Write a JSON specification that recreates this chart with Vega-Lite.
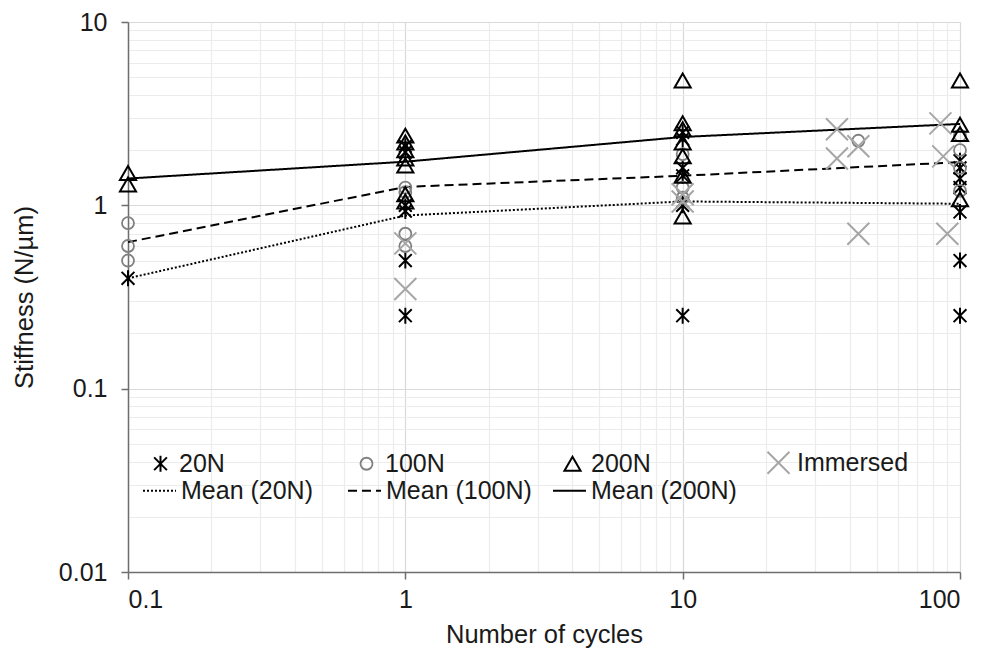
{
  "$schema": "https://vega.github.io/schema/vega-lite/v6.json",
  "width": 832,
  "height": 550,
  "autosize": {"type": "none"},
  "padding": {"left": 128, "top": 22, "right": 25, "bottom": 80},
  "background": "white",
  "config": {
    "view": {"stroke": null},
    "font": "Liberation Sans",
    "axis": {
      "labelFont": "Liberation Sans",
      "titleFont": "Liberation Sans",
      "labelFontSize": 25,
      "titleFontSize": 25.5,
      "labelColor": "#1a1a1a",
      "titleColor": "#1a1a1a",
      "titleFontWeight": "normal",
      "domainColor": "#6e6e6e",
      "domainWidth": 1.5,
      "tickColor": "#6e6e6e",
      "tickWidth": 1.5,
      "tickSize": 7,
      "labelOverlap": false,
      "labelBound": false
    },
    "legend": {
      "labelFont": "Liberation Sans",
      "labelFontSize": 25,
      "labelColor": "#1a1a1a",
      "padding": 0
    }
  },
  "datasets": {
    "points": [
      {"cycles": 0.1, "stiffness": 0.4, "load": "20N"},
      {"cycles": 1, "stiffness": 2.1, "load": "20N"},
      {"cycles": 1, "stiffness": 1.95, "load": "20N"},
      {"cycles": 1, "stiffness": 1.0, "load": "20N"},
      {"cycles": 1, "stiffness": 0.93, "load": "20N"},
      {"cycles": 1, "stiffness": 0.5, "load": "20N"},
      {"cycles": 1, "stiffness": 0.25, "load": "20N"},
      {"cycles": 10, "stiffness": 2.5, "load": "20N"},
      {"cycles": 10, "stiffness": 2.3, "load": "20N"},
      {"cycles": 10, "stiffness": 1.6, "load": "20N"},
      {"cycles": 10, "stiffness": 1.45, "load": "20N"},
      {"cycles": 10, "stiffness": 1.05, "load": "20N"},
      {"cycles": 10, "stiffness": 1.0, "load": "20N"},
      {"cycles": 10, "stiffness": 0.25, "load": "20N"},
      {"cycles": 100, "stiffness": 1.75, "load": "20N"},
      {"cycles": 100, "stiffness": 1.6, "load": "20N"},
      {"cycles": 100, "stiffness": 1.4, "load": "20N"},
      {"cycles": 100, "stiffness": 1.25, "load": "20N"},
      {"cycles": 100, "stiffness": 0.92, "load": "20N"},
      {"cycles": 100, "stiffness": 0.5, "load": "20N"},
      {"cycles": 100, "stiffness": 0.25, "load": "20N"},
      {"cycles": 0.1, "stiffness": 0.8, "load": "100N"},
      {"cycles": 0.1, "stiffness": 0.6, "load": "100N"},
      {"cycles": 0.1, "stiffness": 0.5, "load": "100N"},
      {"cycles": 1, "stiffness": 1.25, "load": "100N"},
      {"cycles": 1, "stiffness": 1.18, "load": "100N"},
      {"cycles": 1, "stiffness": 0.7, "load": "100N"},
      {"cycles": 1, "stiffness": 0.6, "load": "100N"},
      {"cycles": 10, "stiffness": 1.9, "load": "100N"},
      {"cycles": 10, "stiffness": 1.25, "load": "100N"},
      {"cycles": 10, "stiffness": 1.1, "load": "100N"},
      {"cycles": 43, "stiffness": 2.25, "load": "100N"},
      {"cycles": 100, "stiffness": 2.4, "load": "100N"},
      {"cycles": 100, "stiffness": 2.0, "load": "100N"},
      {"cycles": 100, "stiffness": 1.6, "load": "100N"},
      {"cycles": 100, "stiffness": 1.2, "load": "100N"},
      {"cycles": 0.1, "stiffness": 1.5, "load": "200N"},
      {"cycles": 0.1, "stiffness": 1.3, "load": "200N"},
      {"cycles": 1, "stiffness": 2.4, "load": "200N"},
      {"cycles": 1, "stiffness": 2.2, "load": "200N"},
      {"cycles": 1, "stiffness": 2.0, "load": "200N"},
      {"cycles": 1, "stiffness": 1.8, "load": "200N"},
      {"cycles": 1, "stiffness": 1.65, "load": "200N"},
      {"cycles": 1, "stiffness": 1.15, "load": "200N"},
      {"cycles": 1, "stiffness": 1.05, "load": "200N"},
      {"cycles": 10, "stiffness": 4.8, "load": "200N"},
      {"cycles": 10, "stiffness": 2.8, "load": "200N"},
      {"cycles": 10, "stiffness": 2.6, "load": "200N"},
      {"cycles": 10, "stiffness": 2.2, "load": "200N"},
      {"cycles": 10, "stiffness": 1.85, "load": "200N"},
      {"cycles": 10, "stiffness": 1.45, "load": "200N"},
      {"cycles": 10, "stiffness": 0.87, "load": "200N"},
      {"cycles": 100, "stiffness": 4.8, "load": "200N"},
      {"cycles": 100, "stiffness": 2.75, "load": "200N"},
      {"cycles": 100, "stiffness": 2.45, "load": "200N"},
      {"cycles": 100, "stiffness": 1.08, "load": "200N"},
      {"cycles": 1, "stiffness": 0.62, "load": "Immersed"},
      {"cycles": 1, "stiffness": 0.35, "load": "Immersed"},
      {"cycles": 10, "stiffness": 1.15, "load": "Immersed"},
      {"cycles": 10, "stiffness": 1.05, "load": "Immersed"},
      {"cycles": 36, "stiffness": 2.6, "load": "Immersed"},
      {"cycles": 36, "stiffness": 1.8, "load": "Immersed"},
      {"cycles": 43, "stiffness": 2.1, "load": "Immersed"},
      {"cycles": 43, "stiffness": 0.7, "load": "Immersed"},
      {"cycles": 85, "stiffness": 2.8, "load": "Immersed"},
      {"cycles": 87, "stiffness": 1.85, "load": "Immersed"},
      {"cycles": 90, "stiffness": 0.7, "load": "Immersed"}
    ],
    "means": [
      {"cycles": 0.1, "stiffness": 0.4, "mean": "Mean (20N)"},
      {"cycles": 1, "stiffness": 0.88, "mean": "Mean (20N)"},
      {"cycles": 10, "stiffness": 1.05, "mean": "Mean (20N)"},
      {"cycles": 100, "stiffness": 1.02, "mean": "Mean (20N)"},
      {"cycles": 0.1, "stiffness": 0.63, "mean": "Mean (100N)"},
      {"cycles": 1, "stiffness": 1.26, "mean": "Mean (100N)"},
      {"cycles": 10, "stiffness": 1.45, "mean": "Mean (100N)"},
      {"cycles": 100, "stiffness": 1.72, "mean": "Mean (100N)"},
      {"cycles": 0.1, "stiffness": 1.4, "mean": "Mean (200N)"},
      {"cycles": 1, "stiffness": 1.73, "mean": "Mean (200N)"},
      {"cycles": 10, "stiffness": 2.36, "mean": "Mean (200N)"},
      {"cycles": 100, "stiffness": 2.78, "mean": "Mean (200N)"}
    ]
  },
  "encoding": {
    "x": {
      "field": "cycles",
      "type": "quantitative",
      "scale": {"type": "log", "domain": [0.1, 100], "nice": false},
      "axis": {
        "title": "Number of cycles",
        "titlePadding": 10,
        "labelPadding": 8,
        "values": [0.1, 0.2, 0.3, 0.4, 0.5, 0.6, 0.7, 0.8, 0.9, 1, 2, 3, 4, 5, 6, 7, 8, 9, 10, 20, 30, 40, 50, 60, 70, 80, 90, 100],
        "format": "~g",
        "labelExpr": "indexof([0.1, 1, 10, 100], datum.value) >= 0 ? datum.label : ''",
        "grid": true,
        "gridColor": {"condition": {"test": "indexof([0.1, 1, 10, 100], datum.value) >= 0", "value": "#d9d9d9"}, "value": "#ececec"},
        "gridWidth": 1.2,
        "tickOpacity": {"condition": {"test": "indexof([0.1, 1, 10, 100], datum.value) >= 0", "value": 1}, "value": 0}
      }
    },
    "y": {
      "field": "stiffness",
      "type": "quantitative",
      "scale": {"type": "log", "domain": [0.01, 10], "nice": false},
      "axis": {
        "title": "Stiffness (N/µm)",
        "titlePadding": 21,
        "labelPadding": 14,
        "values": [0.01, 0.02, 0.03, 0.04, 0.05, 0.06, 0.07, 0.08, 0.09, 0.1, 0.2, 0.3, 0.4, 0.5, 0.6, 0.7, 0.8, 0.9, 1, 2, 3, 4, 5, 6, 7, 8, 9, 10],
        "format": "~g",
        "labelExpr": "indexof([0.01, 0.1, 1, 10], datum.value) >= 0 ? datum.label : ''",
        "grid": true,
        "gridColor": {"condition": {"test": "indexof([0.01, 0.1, 1, 10], datum.value) >= 0", "value": "#d9d9d9"}, "value": "#ececec"},
        "gridWidth": 1.2,
        "tickOpacity": {"condition": {"test": "indexof([0.01, 0.1, 1, 10], datum.value) >= 0", "value": 1}, "value": 0}
      }
    }
  },
  "layer": [
    {
      "data": {"name": "means"},
      "mark": {"type": "line", "color": "black", "strokeWidth": 2},
      "encoding": {
        "strokeDash": {
          "field": "mean",
          "type": "nominal",
          "scale": {"domain": ["Mean (20N)", "Mean (100N)", "Mean (200N)"], "range": [[2, 2], [9, 5], [1, 0]]},
          "legend": {
            "title": null,
            "orient": "none",
            "direction": "horizontal",
            "columns": 3,
            "gridAlign": "all",
            "columnPadding": 17,
            "legendX": 14,
            "legendY": 451,
            "symbolType": "stroke",
            "symbolSize": 1089,
            "symbolStrokeWidth": 2,
            "symbolStrokeColor": "black",
            "labelOffset": 4
          }
        }
      }
    },
    {
      "data": {"name": "points"},
      "mark": {"type": "point", "filled": false, "opacity": 1},
      "encoding": {
        "shape": {
          "field": "load",
          "type": "nominal",
          "scale": {
            "domain": ["20N", "100N", "200N", "Immersed"],
            "range": ["M-0.8,-0.8L0.8,0.8M0.8,-0.8L-0.8,0.8M0,-1L0,1", "circle", "triangle-up", "M-1,-1L1,1M-1,1L1,-1"]
          },
          "legend": {
            "title": null,
            "orient": "none",
            "direction": "horizontal",
            "columns": 4,
            "gridAlign": "all",
            "columnPadding": 60,
            "legendX": 20,
            "legendY": 428,
            "labelOffset": 6
          }
        },
        "stroke": {
          "field": "load",
          "type": "nominal",
          "scale": {"domain": ["20N", "100N", "200N", "Immersed"], "range": ["#000000", "#808080", "#000000", "#a6a6a6"]},
          "legend": {
            "title": null,
            "orient": "none",
            "direction": "horizontal",
            "columns": 4,
            "gridAlign": "all",
            "columnPadding": 60,
            "legendX": 20,
            "legendY": 428,
            "labelOffset": 6
          }
        },
        "size": {
          "field": "load",
          "type": "nominal",
          "scale": {"type": "ordinal", "domain": ["20N", "100N", "200N", "Immersed"], "range": [256, 144, 260, 484]},
          "legend": {
            "title": null,
            "orient": "none",
            "direction": "horizontal",
            "columns": 4,
            "gridAlign": "all",
            "columnPadding": 60,
            "legendX": 20,
            "legendY": 428,
            "labelOffset": 6
          }
        },
        "strokeWidth": {
          "field": "load",
          "type": "nominal",
          "scale": {"type": "ordinal", "domain": ["20N", "100N", "200N", "Immersed"], "range": [2, 1.8, 2, 2]},
          "legend": {
            "title": null,
            "orient": "none",
            "direction": "horizontal",
            "columns": 4,
            "gridAlign": "all",
            "columnPadding": 60,
            "legendX": 20,
            "legendY": 428,
            "labelOffset": 6
          }
        }
      }
    }
  ]
}
